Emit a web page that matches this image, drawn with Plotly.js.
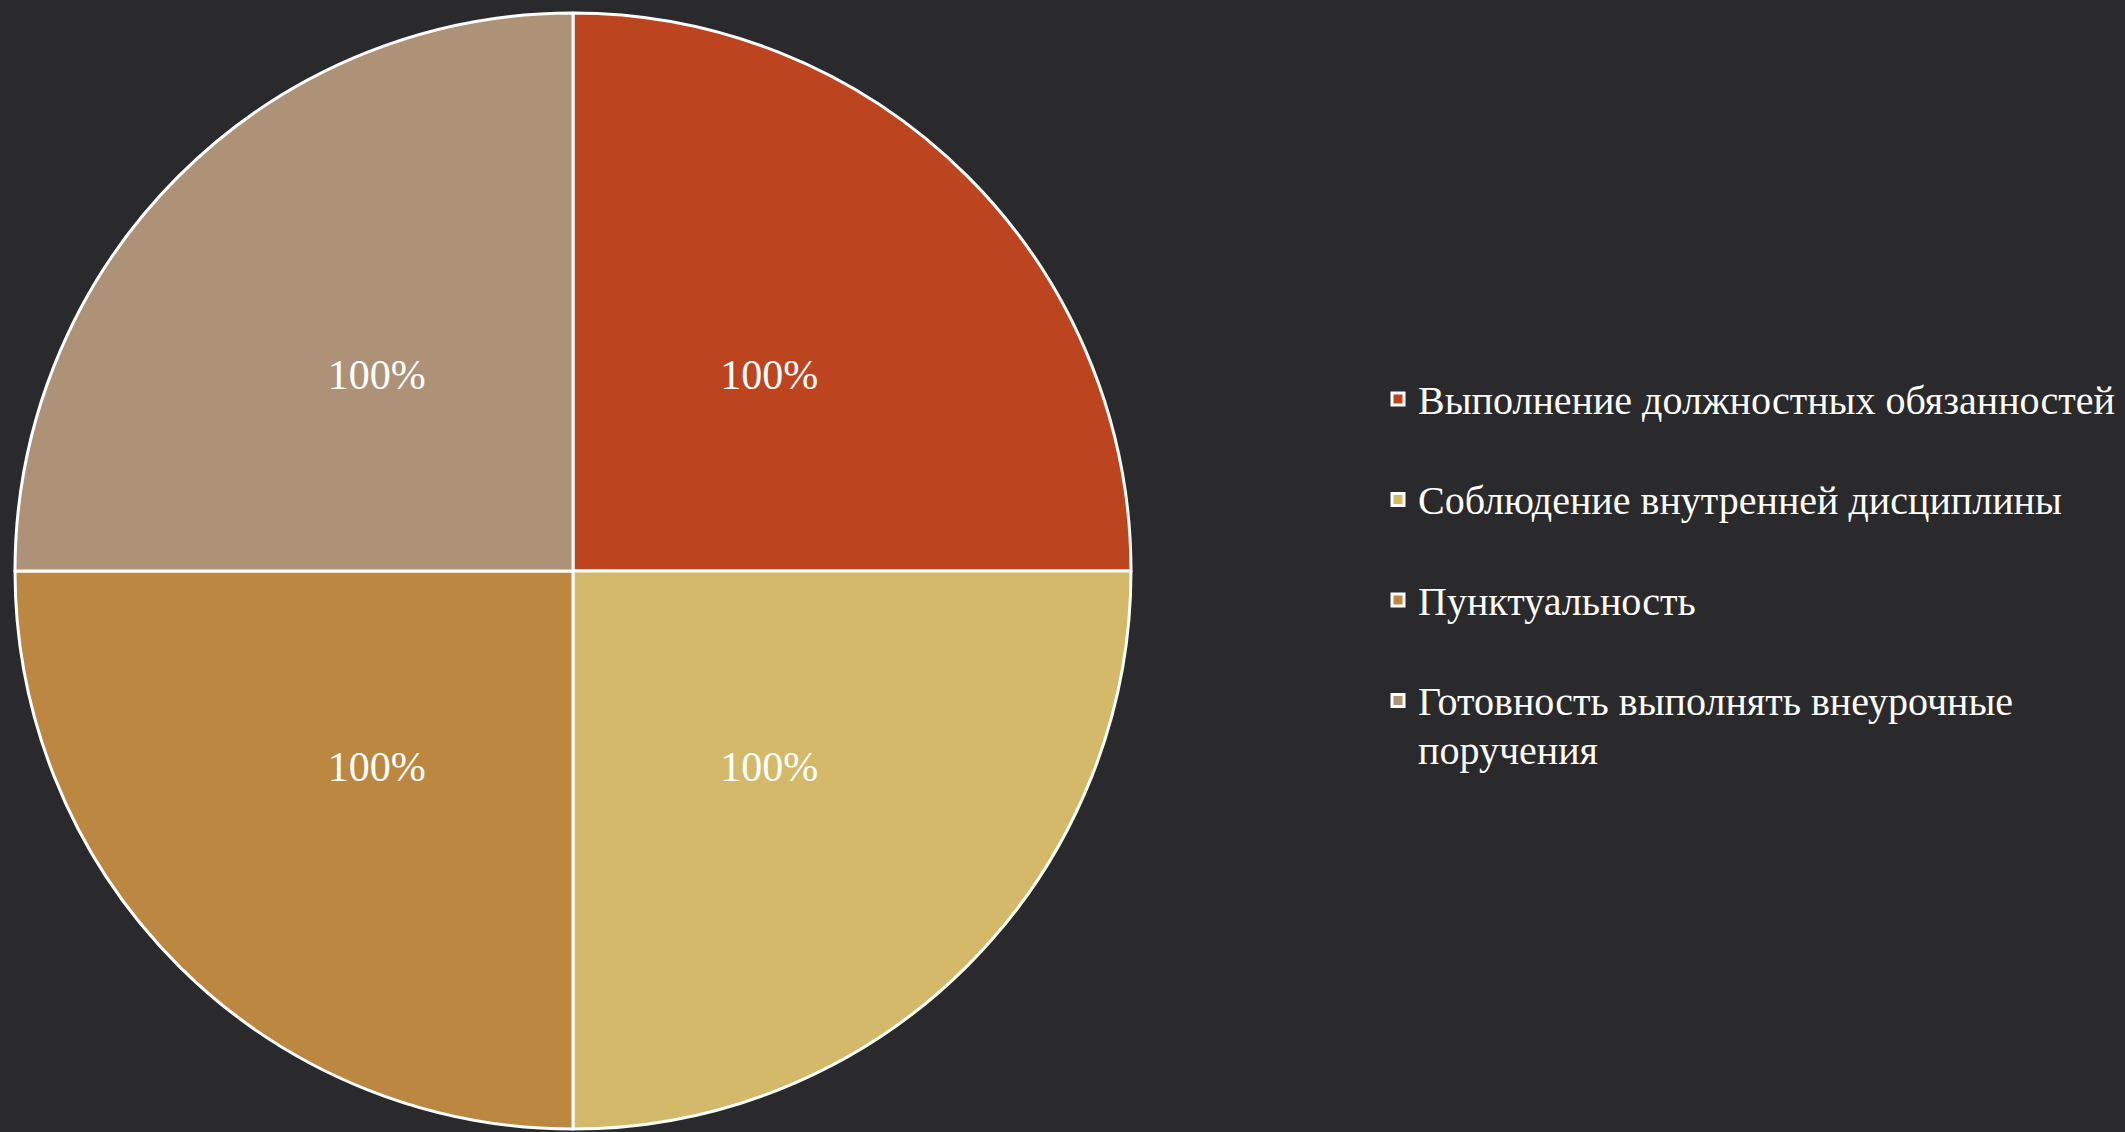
<!DOCTYPE html>
<html>
<head>
<meta charset="utf-8">
<script src="https://cdn.plot.ly/plotly-3.0.1.min.js"></script>
<style>
html,body{margin:0;padding:0;background:#2a2a2c;}
#chart{width:2125px;height:1132px;}
</style>
</head>
<body>
<div id="chart"></div>
<script>
// Data
const categories = [
  "Выполнение должностных обязанностей",
  "Соблюдение внутренней дисциплины",
  "Пунктуальность",
  "Готовность выполнять внеурочные поручения"
];
const values = [100, 100, 100, 100];
const valueLabels = ["100%", "100%", "100%", "100%"];
const colors = ["#BC4520", "#D4B96A", "#BC8741", "#AD9278"];

// Legend labels: wrap long names, pad short ones to mimic the spacing of the original legend
function wrapLabel(s, maxLen) {
  const words = s.split(" ");
  const lines = [];
  let cur = "";
  for (const w of words) {
    if (cur && (cur + " " + w).length > maxLen) { lines.push(cur); cur = w; }
    else { cur = cur ? cur + " " + w : w; }
  }
  if (cur) lines.push(cur);
  return lines;
}
const legendLabels = categories.map(c => {
  const lines = wrapLabel(c, 36);
  const styled = lines.map(l => '<span style="font-size:40px">' + l + '</span>');
  if (styled.length < 2) styled.push(' ');
  return styled.join('<br>');
});

const cx = 573 / 2125, cy = 1 - 571 / 1132;
const R = 558, Rtext = 474;

// Main pie (slices + legend)
const pieTrace = {
  type: 'pie',
  labels: legendLabels,
  values: values,
  textinfo: 'none',
  sort: false,
  direction: 'clockwise',
  rotation: 0,
  marker: {colors: colors, line: {color: '#ffffff', width: 3}},
  domain: {x: [cx - R / 2125, cx + R / 2125], y: [cy - R / 1132, cy + R / 1132]},
  hoverinfo: 'none'
};

// Transparent overlay pie carrying the value labels (same data)
const labelTrace = {
  type: 'pie',
  labels: legendLabels,
  values: values,
  text: valueLabels,
  textinfo: 'text',
  textposition: 'inside',
  insidetextorientation: 'horizontal',
  textfont: {family: 'Liberation Serif, serif', size: 42, color: '#ffffff'},
  sort: false,
  direction: 'clockwise',
  rotation: 0,
  showlegend: false,
  marker: {colors: ['rgba(0,0,0,0)', 'rgba(0,0,0,0)', 'rgba(0,0,0,0)', 'rgba(0,0,0,0)'], line: {width: 0}},
  domain: {x: [cx - Rtext / 2125, cx + Rtext / 2125], y: [cy - Rtext / 1132, cy + Rtext / 1132]},
  hoverinfo: 'none'
};

const layout = {
  width: 2125,
  height: 1132,
  margin: {l: 0, r: 0, t: 0, b: 0},
  paper_bgcolor: '#2a2a2c',
  plot_bgcolor: '#2a2a2c',
  showlegend: true,
  legend: {
    x: 1378 / 2125,
    xanchor: 'left',
    y: 1 - 368 / 1132,
    yanchor: 'top',
    valign: 'top',
    font: {family: 'Liberation Serif, serif', size: 37.5, color: '#ffffff'},
    bgcolor: 'rgba(0,0,0,0)'
  }
};

Plotly.newPlot('chart', [pieTrace, labelTrace], layout, {displayModeBar: false, staticPlot: true});
</script>
</body>
</html>
